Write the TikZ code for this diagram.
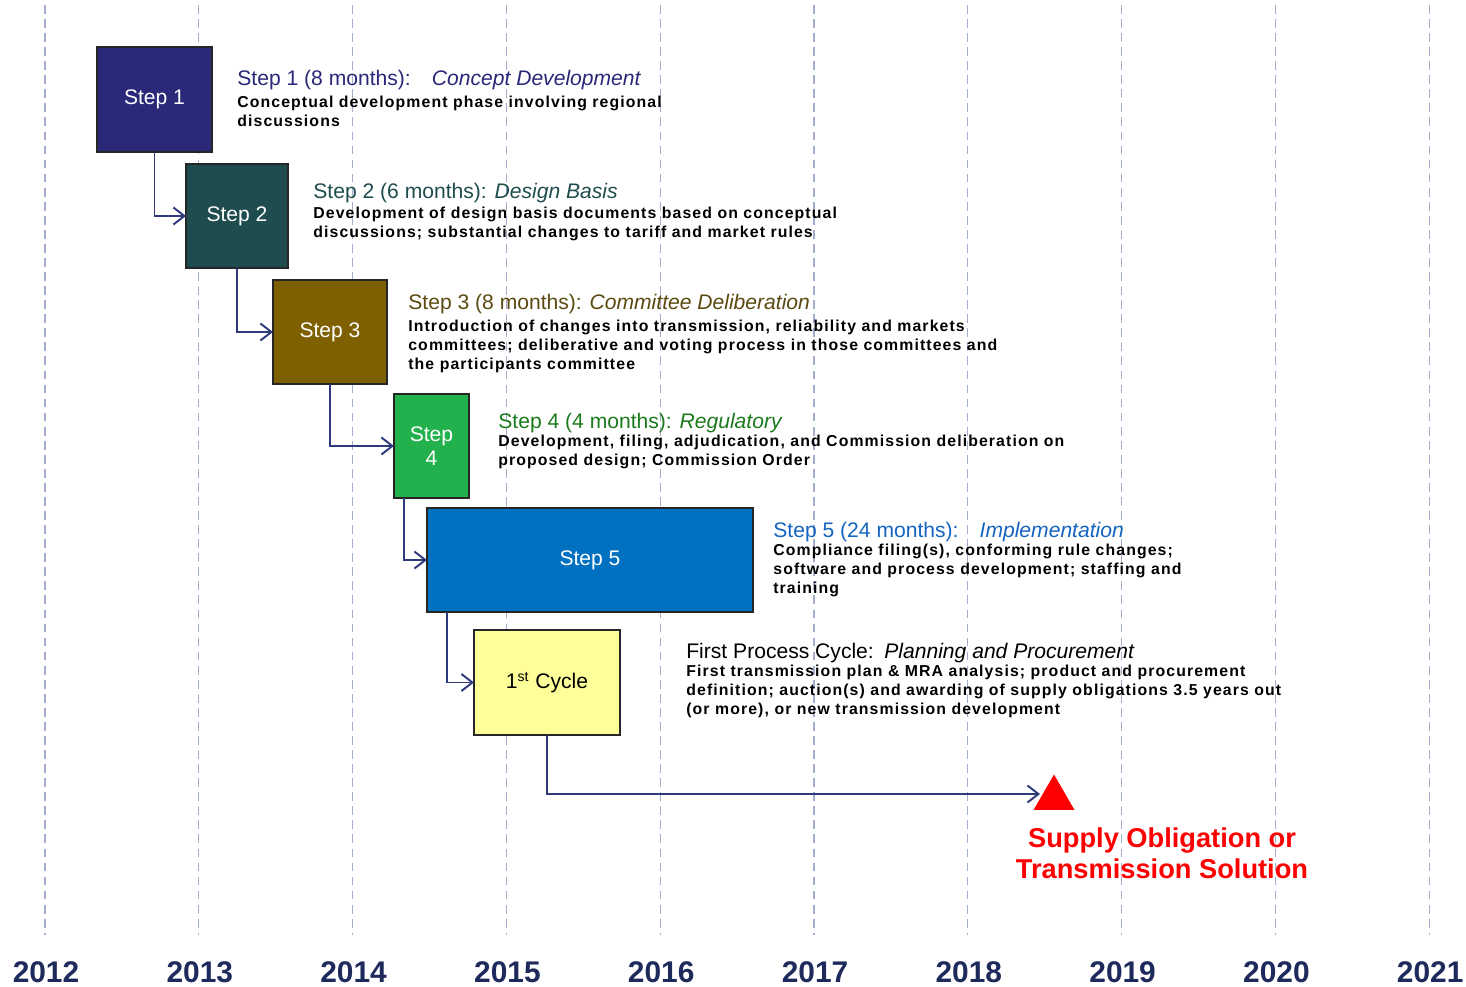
\documentclass[tikz,border=0pt]{standalone}
\usepackage{fontspec}
\setmainfont{Liberation Sans}
\usetikzlibrary{arrows.meta,shapes.geometric}

\definecolor{navybox}{HTML}{2A2878}
\definecolor{tealbox}{HTML}{1F4C4E}
\definecolor{olivebox}{HTML}{7F6000}
\definecolor{greenbox}{HTML}{22B14C}
\definecolor{bluebox}{HTML}{0070C0}
\definecolor{yellowbox}{HTML}{FFFF99}
\definecolor{olivetext}{HTML}{5B4A10}
\definecolor{greentext}{HTML}{1B7B1B}
\definecolor{bluetext}{HTML}{1565C0}
\definecolor{linkblue}{HTML}{2E3A7A}
\definecolor{yearblue}{HTML}{1F2A5C}
\definecolor{yeargrid}{HTML}{A3ADCF}

\begin{document}
\begin{tikzpicture}[x=0.2mm, y=-0.2mm,
  box/.style={draw=black!85, line width=0.7pt, text=white, inner sep=0pt, outer sep=0pt,
    align=center, font=\fontsize{12}{14}\selectfont},
  title/.style={anchor=base west, inner sep=0pt, font=\fontsize{12}{13}\selectfont},
  desc/.style={anchor=north west, inner sep=0pt, align=left,
    font=\addfontfeatures{LetterSpace=7}\bfseries\fontsize{9}{10.8}\selectfont},
  link/.style={draw=linkblue, line width=1.1pt, -{Straight Barb[length=2.2mm,width=3.4mm]}},
  yearline/.style={draw=yeargrid, line width=0.6pt, dash pattern=on 5pt off 3pt}]
	\fill[white] (0,0) rectangle (1466,986);
	\useasboundingbox (0,0) rectangle (1466,986);
	% years along the bottom
	\foreach \yr [count=\i from 0] in {2012,...,2021} {
		\draw[yearline] (45+\i*153.8,5) -- (45+\i*153.8,935);
		\node[font=\bfseries\fontsize{17}{19}\selectfont, text=yearblue] (y\yr) at (46+\i*153.8,972) {\yr};
	}
	% the steps
	\node[box, fill=navybox, minimum width=23mm, minimum height=21mm] (step1) at (154.5,99.5) {Step 1};
	\node[box, fill=tealbox, minimum width=20.4mm, minimum height=20.8mm] (step2) at (237,216) {Step 2};
	\node[box, fill=olivebox, minimum width=22.8mm, minimum height=20.8mm] (step3) at (330,332) {Step 3};
	\node[box, fill=greenbox, minimum width=15mm, minimum height=20.8mm] (step4) at (431.5,446) {Step\\4};
	\node[box, fill=bluebox, minimum width=65.2mm, minimum height=20.8mm] (step5) at (590,560) {Step 5};
	\node[box, fill=yellowbox, text=black, minimum width=29.2mm, minimum height=21mm] (cycle) at (547,682.5) {1\textsuperscript{st} Cycle};
	\node[regular polygon, regular polygon sides=3, fill=red, inner sep=0pt, minimum size=9.4mm] (goal) at (1054,798) {};
	\node[text=red, align=center, font=\bfseries\fontsize{15.5}{17.6}\selectfont] (goaltext) at (1162,853) {Supply Obligation or\\Transmission Solution};
	% notes beside each step
	\node[title, text=navybox] (title1) at (237,86) {Step 1 (8 months):\quad\textit{Concept Development}};
	\node[desc] (desc1) at (237,96) {Conceptual development phase involving regional\\discussions};
	\node[title, text=tealbox] (title2) at (313,199) {Step 2 (6 months): \textit{Design Basis}};
	\node[desc] (desc2) at (313,207) {Development of design basis documents based on conceptual\\discussions; substantial changes to tariff and market rules};
	\node[title, text=olivetext] (title3) at (408,310) {Step 3 (8 months): \textit{Committee Deliberation}};
	\node[desc] (desc3) at (408,320) {Introduction of changes into transmission, reliability and markets\\committees; deliberative and voting process in those committees and\\the participants committee};
	\node[title, text=greentext] (title4) at (498,428) {Step 4 (4 months): \textit{Regulatory}};
	\node[desc] (desc4) at (498,435) {Development, filing, adjudication, and Commission deliberation on\\proposed design; Commission Order};
	\node[title, text=bluetext] (title5) at (773,537) {Step 5 (24 months):\quad\textit{Implementation}};
	\node[desc] (desc5) at (773,544) {Compliance filing(s), conforming rule changes;\\software and process development; staffing and\\training};
	\node[title] (title6) at (686,658) {First Process Cycle:\enspace\textit{Planning and Procurement}};
	\node[desc] (desc6) at (686,665) {First transmission plan \& MRA analysis; product and procurement\\definition; auction(s) and awarding of supply obligations 3.5 years out\\(or more), or new transmission development};
	% hand-offs
	\draw[link] (step1.south) |- (step2.west);
	\draw[link] (step2.south) |- (step3.west);
	\draw[link] (step3.south) |- (step4.west);
	\draw[link] ([xshift=2mm]step4.south west) |- (step5.west);
	\draw[link] ([xshift=4mm]step5.south west) |- (cycle.west);
	\draw[link] (cycle.south) |- ([yshift=0.8mm]goal.west);
\end{tikzpicture}
\end{document}
